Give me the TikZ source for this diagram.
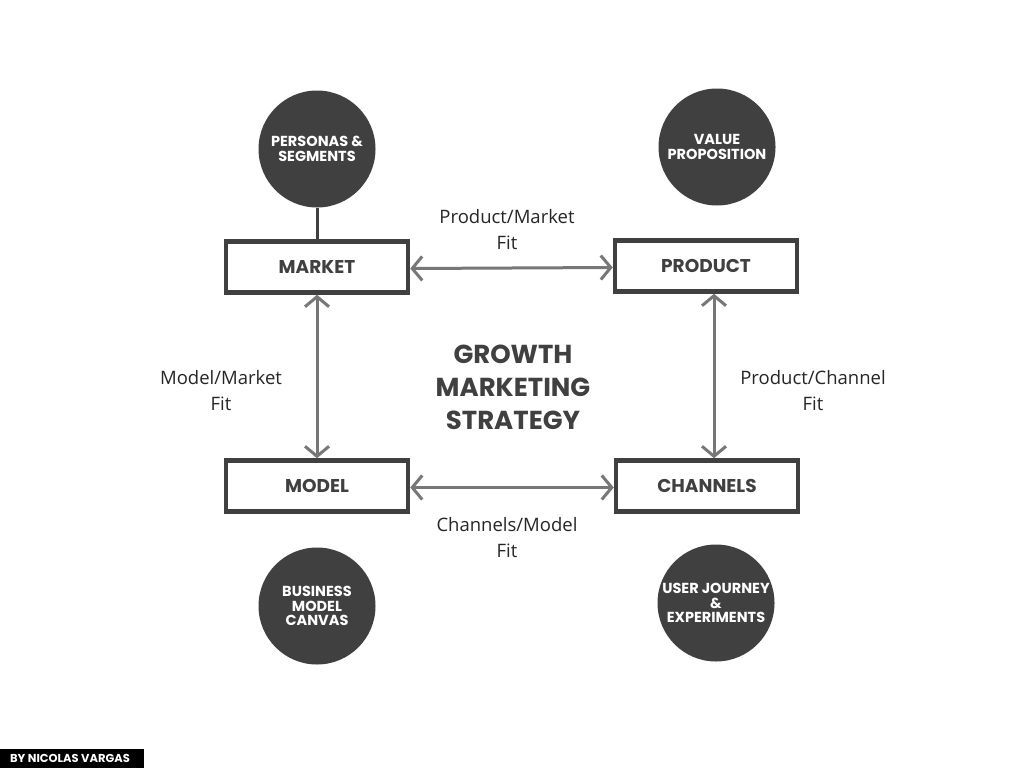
\documentclass[tikz,border=0pt]{standalone}
\usepackage{fontspec}
\setmainfont{Open Sans}
\newfontfamily\pop{Poppins}
\usetikzlibrary{arrows.meta}
\definecolor{dk}{HTML}{404040}
\definecolor{ar}{HTML}{777777}
\begin{document}
\begin{tikzpicture}[x=1pt,y=-1pt,
  box/.style={draw=dk,line width=4.5pt,fill=white,minimum width=182pt,minimum height=51pt,inner sep=0pt,text=dk,font=\pop\bfseries\fontsize{18.5}{20}\selectfont},
  disc/.style={circle,fill=dk,minimum size=117pt,inner sep=0pt,text=white,align=center,font=\pop\bfseries\fontsize{14.5}{14.5}\selectfont},
  fitlbl/.style={align=center,text=black!85,font=\fontsize{18.5}{26}\selectfont},
  link/.style={draw=ar,line width=3pt,{Straight Barb[length=10pt,width=24pt]}-{Straight Barb[length=10pt,width=24pt]}}]
\fill[white] (0,0) rectangle (1024,768);
\useasboundingbox (0,0) rectangle (1024,768);
\node[box] (market) at (317,267) {MARKET};
\node[box] (product) at (706,266) {PRODUCT};
\node[box] (model) at (317,486) {MODEL};
\node[box] (channels) at (707,486) {CHANNELS};
\node[disc] (c1) at (317,149) {PERSONAS \&\\SEGMENTS};
\node[disc] (c2) at (717,147) {VALUE\\PROPOSITION};
\node[disc] (c3) at (317,606) {BUSINESS\\MODEL\\CANVAS};
\node[disc] (c4) at (716,603) {USER JOURNEY\\\&\\EXPERIMENTS};
\draw[dk,line width=3pt] (c1.south) -- (market.north);
\draw[link] ([yshift=-1.5pt]market.east) -- ([yshift=-1.5pt]product.west);
\draw[link] ([yshift=-1.5pt]model.east) -- ([yshift=-1.5pt]channels.west);
\draw[link] (market.south) -- (model.north);
\draw[link] (product.south -| 714,0) -- (channels.north -| 714,0);
\node[fitlbl] (l1) at (507,230) {Product/Market\\Fit};
\node[fitlbl] (l2) at (507,538) {Channels/Model\\Fit};
\node[fitlbl] (l3) at (221,391) {Model/Market\\Fit};
\node[fitlbl] (l4) at (813,391) {Product/Channel\\Fit};
\node[align=center,text=dk,font=\pop\bfseries\fontsize{26}{33}\selectfont] (title) at (513,387) {GROWTH\\MARKETING\\STRATEGY};
\fill[black] (0,749) rectangle (144,768);
\node[text=white,font=\pop\bfseries\fontsize{11.5}{12}\selectfont] (by) at (70,758.5) {BY NICOLAS VARGAS};
\end{tikzpicture}
\end{document}
